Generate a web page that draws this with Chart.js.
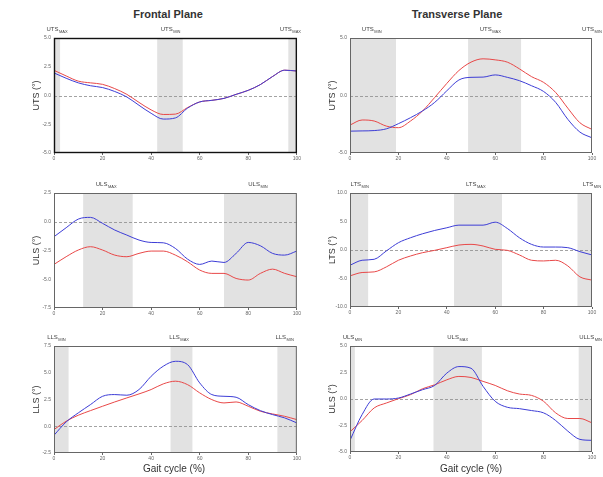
<!DOCTYPE html>
<html><head><meta charset="utf-8">
<script src="https://cdn.jsdelivr.net/npm/chart.js@4"></script>
<style>
body{margin:0;width:603px;height:477px;background:#fff;position:relative;overflow:hidden;font-family:Arial,"Liberation Sans",sans-serif}
canvas{position:absolute}
.t{position:absolute;font-weight:bold;font-size:11px;color:#333;transform:translateX(-50%);white-space:nowrap}
.x{position:absolute;font-size:10px;color:#333;transform:translateX(-50%);white-space:nowrap}
</style></head><body>
<div class="t" style="left:168px;top:8px">Frontal Plane</div>
<div class="t" style="left:457px;top:8px">Transverse Plane</div>
<canvas id="c1" width="284" height="146" style="left:18px;top:18px"></canvas>
<canvas id="c2" width="289" height="146" style="left:314px;top:18px"></canvas>
<canvas id="c3" width="284" height="146" style="left:18px;top:173px"></canvas>
<canvas id="c4" width="289" height="146" style="left:314px;top:173px"></canvas>
<canvas id="c5" width="284" height="138" style="left:18px;top:326px"></canvas>
<canvas id="c6" width="289" height="138" style="left:314px;top:326px"></canvas>
<div class="x" style="left:174px;top:463px">Gait cycle (%)</div>
<div class="x" style="left:471px;top:463px">Gait cycle (%)</div>
<script>
// ---- data ----
const gait = [0,5,10,15,20,25,30,35,40,45,50,55,60,65,70,75,80,85,90,95,100];

const utsFrontalBlue = [1.96,1.5,1.1,0.85,0.69,0.35,-0.13,-0.85,-1.55,-2.05,-1.95,-1.1,-0.56,-0.42,-0.25,0.1,0.45,0.95,1.65,2.2,2.13];
const utsFrontalRed  = [2.19,1.7,1.25,1.1,0.97,0.6,0.1,-0.6,-1.25,-1.65,-1.62,-1.05,-0.56,-0.42,-0.25,0.1,0.45,0.95,1.65,2.2,2.13];
const utsFrontalRange = [-5,5,2.5];
const utsFrontalBands = [[0,2.5],[42.5,53],[96.5,100]];
const utsFrontalMarks = ['UTS','MAX','UTS','MIN','UTS','MAX'];
const utsFrontalMarkAt = [1.25,48,100];

const utsTransBlue = [-3.1,-3.08,-3.05,-2.9,-2.45,-1.93,-1.34,-0.6,0.41,1.35,1.58,1.6,1.79,1.58,1.29,0.85,0.35,-0.6,-2.07,-3.18,-3.68];
const utsTransRed  = [-2.57,-2.13,-2.22,-2.66,-2.8,-2.22,-1.34,-0.17,1.05,2.17,2.9,3.19,3.1,2.9,2.32,1.64,1.14,0.26,-1.1,-2.37,-2.95];
const utsTransRange = [-5,5,5];
const utsTransBands = [[0,19],[48.8,70.7]];
const utsTransMarks = ['UTS','MIN','UTS','MAX','UTS','MIN'];
const utsTransMarkAt = [9,58,100];

const ulsFrontalBlue = [-1.3,-0.52,0.23,0.38,-0.14,-0.72,-1.16,-1.59,-1.8,-1.83,-2.32,-3.25,-3.71,-3.42,-3.54,-2.75,-1.8,-2.09,-2.75,-2.9,-2.55];
const ulsFrontalRed  = [-3.71,-3.04,-2.46,-2.17,-2.46,-2.9,-3.04,-2.75,-2.55,-2.55,-2.9,-3.48,-4.2,-4.49,-4.49,-4.93,-5.07,-4.49,-4.12,-4.49,-4.78];
const ulsFrontalRange = [-7.5,2.5,2.5];
const ulsFrontalBands = [[12,32.4],[70,100]];
const ulsFrontalMarks = ['ULS','MAX','ULS','MIN'];
const ulsFrontalMarkAt = [21.5,84];

const ltsTransBlue = [-2.67,-1.8,-1.63,-0.17,1.28,2.15,2.85,3.43,3.9,4.36,4.36,4.36,4.88,3.78,2.15,0.99,0.52,0.52,0.41,-0.29,-0.87];
const ltsTransRed  = [-4.53,-3.95,-3.84,-2.97,-1.8,-1.05,-0.47,-0.06,0.41,0.87,0.99,0.7,0.12,-0.06,-0.87,-1.8,-1.92,-1.8,-2.79,-4.71,-5.29];
const ltsTransRange = [-10,10,5];
const ltsTransBands = [[0,7.5],[43,62.8],[94,100]];
const ltsTransMarks = ['LTS','MIN','LTS','MAX','LTS','MIN'];
const ltsTransMarkAt = [4,52,100];

const llsFrontalBlue = [-0.84,0.4,1.25,2.02,2.8,2.96,2.9,3.43,4.67,5.61,6.07,5.76,4.05,2.96,2.8,2.71,2.02,1.46,1.09,0.78,0.31];
const llsFrontalRed  = [-0.31,0.47,1.03,1.46,1.87,2.27,2.65,3.02,3.43,3.96,4.21,3.89,3.12,2.49,2.18,2.27,1.87,1.4,1.15,0.93,0.62];
const llsFrontalRange = [-2.5,7.5,2.5];
const llsFrontalBands = [[0,6],[48,57],[92,100]];
const llsFrontalMarks = ['LLS','MIN','LLS','MAX','LLS','MIN'];
const llsFrontalMarkAt = [1,51.5,95];

const ulsTransBlue = [-3.9,-1.47,0,0,0.09,0.47,0.88,1.28,2.44,3.06,2.9,1.19,-0.22,-0.78,-0.91,-1.09,-1.31,-2.03,-3.03,-3.81,-3.9];
const ulsTransRed  = [-3.09,-2.03,-0.84,-0.38,0.03,0.41,0.97,1.34,1.81,2.13,2.03,1.66,1.28,0.78,0.47,0.34,-0.22,-1.31,-1.84,-1.84,-2.25];
const ulsTransRange = [-5,5,2.5];
const ulsTransBands = [[0,2],[34.5,54.5],[94.5,100]];
const ulsTransMarks = ['ULS','MIN','ULS','MAX','ULLS','MIN'];
const ulsTransMarkAt = [1,44.5,100];

// ---- drawing ----
const deco = {
  id:'deco',
  beforeDatasetsDraw(chart, args, o){
    const {ctx, chartArea:a, scales:{x,y}} = chart;
    ctx.save();
    ctx.fillStyle = '#e2e2e2';
    o.bands.forEach(b=>{
      const x1 = x.getPixelForValue(b[0]), x2 = x.getPixelForValue(b[1]);
      ctx.fillRect(x1, a.top, x2-x1, a.bottom-a.top);
    });
    const y0 = Math.round(y.getPixelForValue(0))+0.5;
    ctx.strokeStyle = '#8c8c8c'; ctx.lineWidth = 0.8; ctx.setLineDash([3,2]);
    ctx.beginPath(); ctx.moveTo(a.left,y0); ctx.lineTo(a.right,y0); ctx.stroke();
    ctx.restore();
  },
  afterDraw(chart, args, o){
    const {ctx, chartArea:a, scales:{x}} = chart;
    ctx.save();
    ctx.strokeStyle = o.frame; ctx.lineWidth = o.frameW;
    ctx.strokeRect(a.left+0.5, a.top+0.5, a.right-a.left-1, a.bottom-a.top-1);
    ctx.fillStyle = '#333';
    ctx.font = '9px Arial, "Liberation Sans", sans-serif';
    ctx.textAlign = 'center'; ctx.textBaseline = 'middle';
    ctx.translate(a.left-17, (a.top+a.bottom)/2);
    ctx.rotate(-Math.PI/2);
    ctx.fillText(o.ytitle, 0, 0);
    ctx.restore();
    ctx.save();
    ctx.fillStyle = '#444'; ctx.textBaseline = 'alphabetic';
    const f1 = '6px Arial, "Liberation Sans", sans-serif';
    const f2 = '4px Arial, "Liberation Sans", sans-serif';
    for (let i=0;i<o.markAt.length;i++){
      const main = o.marks[2*i], sub = o.marks[2*i+1];
      ctx.font = f1; const w1 = ctx.measureText(main).width;
      ctx.font = f2; const w2 = ctx.measureText(sub).width;
      const w = w1+w2+0.5;
      let cx = x.getPixelForValue(o.markAt[i]);
      cx = Math.max(w/2+1, Math.min(chart.width - w/2 - 1, cx));
      const bx = cx - w/2, by = a.top - 7;
      ctx.font = f1; ctx.textAlign='left'; ctx.fillText(main, bx, by);
      ctx.font = f2; ctx.fillText(sub, bx+w1+0.5, by+1.5);
    }
    ctx.restore();
  }
};

function panel(id, blue, red, range, bands, marks, markAt, ytitle, geo, frame){
  const pts = arr => gait.map((g,i)=>({x:g, y:arr[i]}));
  new Chart(document.getElementById(id), {
    type:'line',
    data:{datasets:[
      {data:pts(blue), borderColor:'#3d3dd6', borderWidth:1, pointRadius:0, cubicInterpolationMode:'monotone', fill:false},
      {data:pts(red), borderColor:'#e84848', borderWidth:1, pointRadius:0, cubicInterpolationMode:'monotone', fill:false}
    ]},
    options:{
      responsive:false, animation:false, events:[],
      layout:{padding:{top:geo.pt, right:geo.pr, left:0, bottom:0}},
      plugins:{legend:{display:false}, tooltip:{enabled:false}, title:{display:false},
        deco:{bands, marks, markAt, ytitle, frame:frame[0], frameW:frame[1]}},
      scales:{
        x:{type:'linear', min:0, max:100,
           ticks:{stepSize:20, font:{size:5}, color:'#666', padding:1, maxRotation:0, autoSkip:false},
           grid:{drawOnChartArea:false, tickLength:2, color:'#666'}, border:{display:false},
           afterFit(s){ s.height = geo.xh; }},
        y:{min:range[0], max:range[1],
           ticks:{stepSize:range[2], font:{size:5}, color:'#666', padding:3, callback:v=>v.toFixed(1)},
           grid:{drawOnChartArea:false, drawTicks:false}, border:{display:false},
           afterFit(s){ s.width = geo.yw; }}
      }
    },
    plugins:[deco]
  });
}

const gL = {yw:36, pr:5, pt:20, xh:11};
const gR = {yw:36, pr:11, pt:20, xh:11};
const gR2 = {yw:36, pr:11, pt:20, xh:12};
panel('c1', utsFrontalBlue, utsFrontalRed, utsFrontalRange, utsFrontalBands, utsFrontalMarks, utsFrontalMarkAt, 'UTS (°)', gL, ['#111',1.4]);
panel('c2', utsTransBlue, utsTransRed, utsTransRange, utsTransBands, utsTransMarks, utsTransMarkAt, 'UTS (°)', gR, ['#666',1]);
panel('c3', ulsFrontalBlue, ulsFrontalRed, ulsFrontalRange, ulsFrontalBands, ulsFrontalMarks, ulsFrontalMarkAt, 'ULS (°)', gL, ['#666',1]);
panel('c4', ltsTransBlue, ltsTransRed, ltsTransRange, ltsTransBands, ltsTransMarks, ltsTransMarkAt, 'LTS (°)', gR2, ['#666',1]);
panel('c5', llsFrontalBlue, llsFrontalRed, llsFrontalRange, llsFrontalBands, llsFrontalMarks, llsFrontalMarkAt, 'LLS (°)', gL, ['#666',1]);
panel('c6', ulsTransBlue, ulsTransRed, ulsTransRange, ulsTransBands, ulsTransMarks, ulsTransMarkAt, 'ULS (°)', gR2, ['#666',1]);
</script>
</body></html>
